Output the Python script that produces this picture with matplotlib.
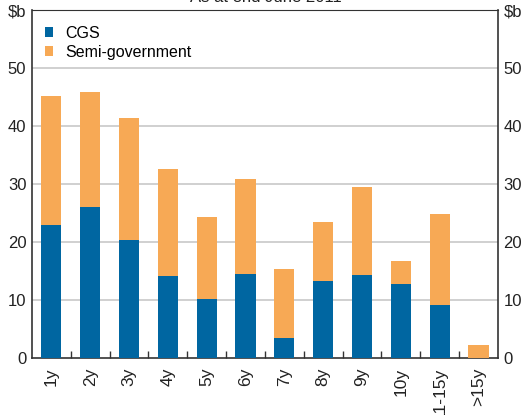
import matplotlib.pyplot as plt
import numpy as np

plt.rcParams['font.family'] = ['Liberation Sans', 'DejaVu Sans']

# maturity buckets
categories = ['1y', '2y', '3y', '4y', '5y', '6y', '7y', '8y', '9y', '10y', '11-15y', '>15y']
cgs_vals = [22.9, 26.0, 20.3, 14.1, 10.2, 14.5, 3.4, 13.2, 14.3, 12.8, 9.1, 0.0]
total_vals = [45.2, 45.9, 41.4, 32.6, 24.3, 30.9, 15.3, 23.4, 29.5, 16.7, 24.8, 2.2]
semi_vals = [t - c for t, c in zip(total_vals, cgs_vals)]

blue = '#0066A1'
orange = '#F7A955'
dark = '#333333'

fig = plt.figure(figsize=(5.32, 4.15), dpi=100)
ax = fig.add_axes([0.060, 0.1373, 0.876, 0.8385])

x = np.arange(len(categories))
ax.bar(x, cgs_vals, width=0.52, color=blue, label='CGS', zorder=3)
ax.bar(x, semi_vals, bottom=cgs_vals, width=0.52, color=orange,
       label='Semi-government', zorder=3)

ax.set_xlim(-0.5, len(categories) - 0.5)
ax.set_ylim(0, 60)

yt = [0, 10, 20, 30, 40, 50, 60]
ylabels = ['0', '10', '20', '30', '40', '50', '$b']
ax.set_yticks(yt)
ax.set_yticklabels(ylabels)
for y in yt[1:-1]:
    ax.axhline(y, color='#c8c8c8', lw=1.2, zorder=1)

ax.set_xticks(x)
ax.set_xticklabels(categories, rotation=90)
ax.set_xticks(np.arange(0.5, len(categories) - 1, 1), minor=True)
ax.tick_params(axis='x', which='major', length=0, pad=7, labelsize=12.5, colors='#222222')
ax.tick_params(axis='x', which='minor', direction='in', length=5, width=1, color=dark)
ax.tick_params(axis='y', length=0, pad=4, labelsize=12, colors='#222222',
               left=False, right=False, labelleft=True, labelright=True)

for s in ['left', 'right', 'bottom']:
    ax.spines[s].set_color(dark)
    ax.spines[s].set_linewidth(1.2)
ax.spines['top'].set_color(dark)
ax.spines['top'].set_linewidth(0.8)

ax.legend(loc='upper left', frameon=False, fontsize=11.5, handlelength=0.5,
          handleheight=0.5, handletextpad=0.75, labelspacing=0.25,
          borderaxespad=0, borderpad=0, bbox_to_anchor=(0.028, 0.955))

fig.text(0.50, 0.995, 'As at end June 2011', ha='center', va='baseline', fontsize=12,
         color='#222222')

fig.savefig('out.png', dpi=100)
